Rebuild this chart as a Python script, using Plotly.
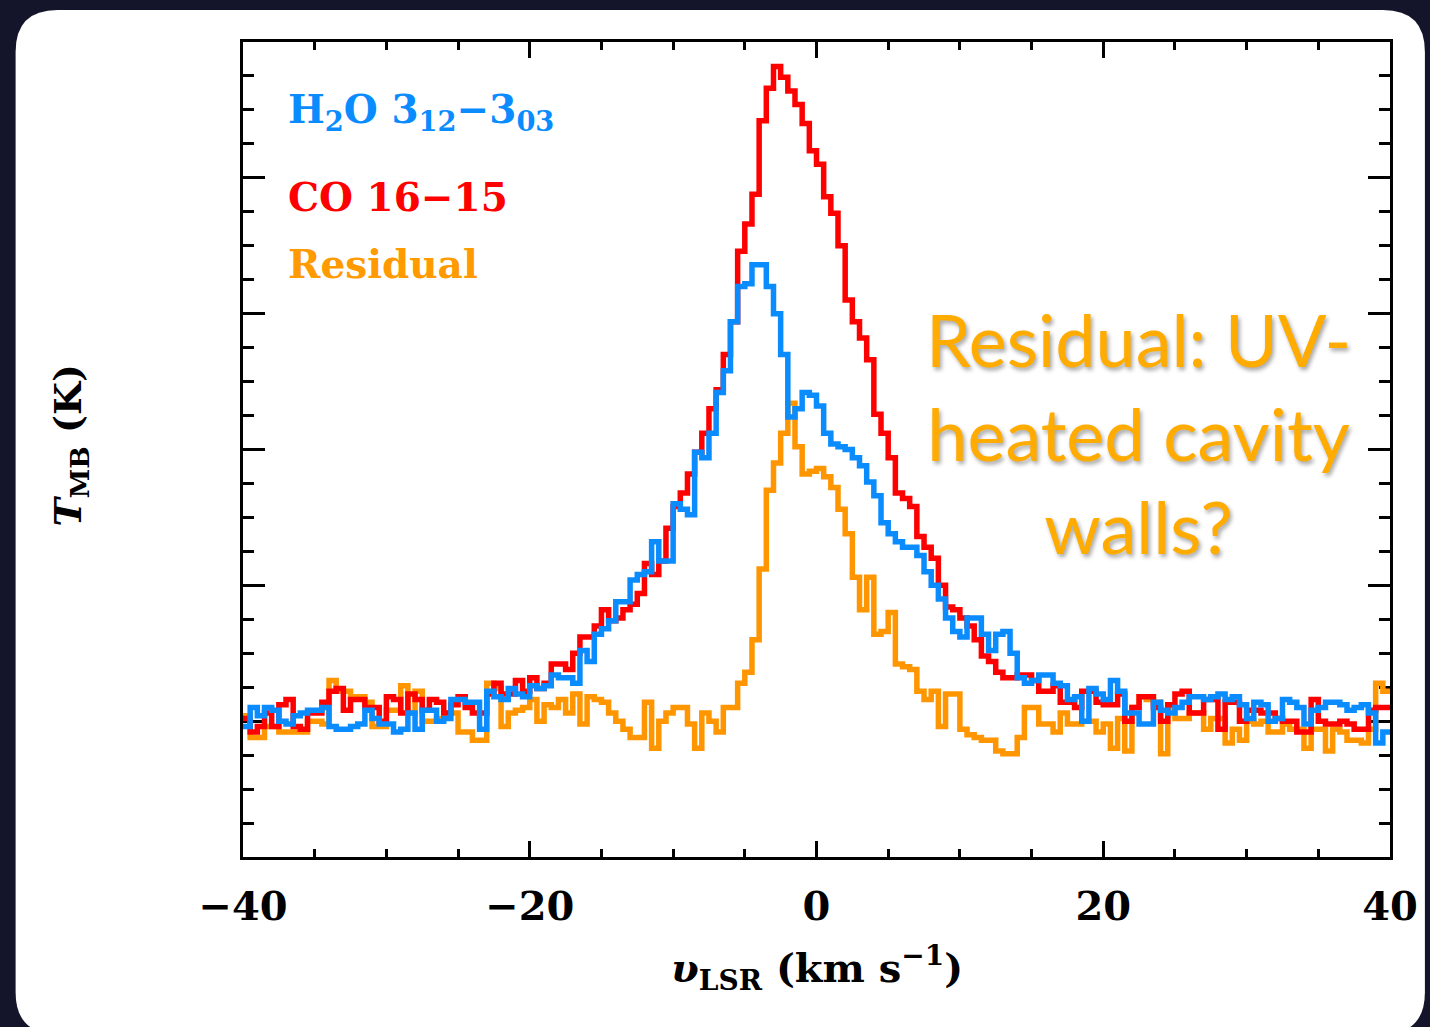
import numpy as np
import plotly.graph_objects as go

# ---- data: spectra on 0.5 km/s channels from -40 to +40 km/s (T_MB in K) ----
v_start = -40.0
chan_width = 0.5

h2o = [-0.02, 0.05, 0.02, 0.05, 0.04, 0.00, -0.01, 0.02, 0.03, 0.04,
       0.04, 0.05, -0.02, -0.03, -0.03, -0.02, -0.01, 0.04, 0.01, -0.01,
       -0.01, -0.04, -0.03, 0.03, -0.03, 0.04, 0.04, 0.00, 0.01, 0.08,
       0.08, 0.07, 0.07, -0.03, 0.11, 0.09, 0.08, 0.12, 0.10, 0.09,
       0.13, 0.12, 0.13, 0.17, 0.16, 0.16, 0.14, 0.26, 0.22, 0.32,
       0.34, 0.37, 0.44, 0.44, 0.52, 0.54, 0.55, 0.66, 0.59, 0.59,
       0.80, 0.78, 0.76, 0.99, 0.97, 1.06, 1.21, 1.29, 1.47, 1.60,
       1.61, 1.68, 1.68, 1.60, 1.50, 1.35, 1.12, 1.15, 1.21, 1.20,
       1.16, 1.06, 1.02, 1.01, 1.00, 0.97, 0.94, 0.88, 0.83, 0.73,
       0.69, 0.66, 0.64, 0.64, 0.61, 0.55, 0.50, 0.45, 0.38, 0.33,
       0.31, 0.38, 0.38, 0.32, 0.26, 0.32, 0.33, 0.25, 0.16, 0.14,
       0.15, 0.17, 0.17, 0.14, 0.13, 0.08, 0.09, 0.00, 0.12, 0.10,
       0.08, 0.15, 0.11, 0.03, 0.03, -0.01, -0.01, 0.07, 0.04, 0.03,
       0.05, 0.07, 0.09, 0.09, 0.08, 0.09, 0.10, 0.08, 0.09, 0.06,
       0.01, 0.07, 0.06, 0.00, 0.01, 0.08, 0.07, 0.05, -0.01, 0.04,
       0.05, 0.07, 0.07, 0.06, 0.04, 0.05, 0.06, 0.03, -0.08, -0.04]

co = [0.01, -0.04, -0.02, 0.03, -0.02, 0.06, 0.08, -0.02, -0.03, 0.03,
      0.03, 0.07, 0.11, 0.12, 0.04, 0.08, 0.08, 0.05, 0.05, 0.00,
      0.09, 0.08, 0.03, 0.10, 0.08, 0.04, 0.08, 0.07, 0.03, 0.06,
      0.09, 0.05, 0.03, 0.03, 0.10, 0.14, 0.10, 0.10, 0.15, 0.11,
      0.16, 0.12, 0.14, 0.21, 0.21, 0.19, 0.25, 0.31, 0.31, 0.35,
      0.41, 0.37, 0.38, 0.41, 0.43, 0.47, 0.58, 0.54, 0.59, 0.71,
      0.79, 0.84, 0.91, 0.99, 1.06, 1.15, 1.22, 1.35, 1.47, 1.73,
      1.83, 1.94, 2.21, 2.33, 2.41, 2.37, 2.32, 2.27, 2.20, 2.10,
      2.05, 1.93, 1.87, 1.75, 1.55, 1.47, 1.41, 1.33, 1.13, 1.06,
      0.97, 0.84, 0.82, 0.79, 0.68, 0.64, 0.60, 0.50, 0.42, 0.41,
      0.38, 0.35, 0.30, 0.24, 0.22, 0.18, 0.16, 0.16, 0.17, 0.17,
      0.15, 0.11, 0.11, 0.13, 0.07, 0.07, 0.05, 0.11, 0.11, 0.07,
      0.06, 0.06, 0.10, 0.00, 0.05, 0.09, 0.09, 0.05, 0.00, 0.06,
      0.10, 0.11, 0.03, 0.03, 0.08, 0.08, -0.03, 0.07, 0.07, 0.00,
      0.04, 0.04, 0.03, 0.03, 0.01, 0.00, 0.00, -0.04, -0.04, 0.08,
      0.00, -0.01, -0.01, 0.00, -0.01, -0.03, -0.03, 0.04, 0.05, 0.05]

residual = [0.02, -0.06, -0.06, -0.02, -0.02, -0.04, -0.04, -0.04, -0.04, 0.00,
            0.00, -0.01, 0.15, 0.11, 0.11, 0.09, 0.09, 0.07, -0.02, -0.02,
            0.04, 0.04, 0.13, 0.03, 0.11, 0.00, 0.00, 0.01, 0.03, 0.03,
            -0.04, -0.04, -0.07, -0.07, 0.14, 0.12, -0.02, 0.03, 0.04, 0.05,
            0.08, 0.00, 0.06, 0.05, 0.08, 0.03, 0.10, -0.01, 0.09, 0.08,
            0.07, 0.03, 0.00, -0.03, -0.06, -0.06, 0.07, -0.10, 0.00, 0.03,
            0.05, 0.05, -0.01, -0.10, 0.03, 0.00, -0.04, 0.05, 0.05, 0.14,
            0.18, 0.30, 0.56, 0.85, 0.95, 1.06, 1.17, 1.01, 0.91, 0.92,
            0.93, 0.90, 0.86, 0.78, 0.69, 0.53, 0.41, 0.53, 0.32, 0.33,
            0.40, 0.21, 0.20, 0.19, 0.11, 0.08, 0.11, -0.02, 0.10, 0.10,
            -0.03, -0.05, -0.06, -0.07, -0.07, -0.11, -0.12, -0.12, -0.06, 0.05,
            0.05, -0.01, -0.01, -0.04, 0.03, -0.01, -0.01, 0.00, 0.00, -0.04,
            -0.01, -0.10, 0.01, -0.11, 0.05, 0.09, 0.08, 0.07, -0.12, 0.05,
            0.01, 0.01, 0.03, 0.03, -0.03, 0.01, 0.01, -0.08, -0.03, -0.07,
            0.00, -0.01, 0.00, -0.04, -0.04, -0.01, -0.03, -0.03, -0.10, -0.03,
            -0.03, -0.11, -0.03, -0.04, -0.07, -0.07, -0.08, -0.03, 0.14, 0.11]

x_ticks = [-40, -20, 0, 20, 40]
x_ticklabels = ["\u221240", "\u221220", "0", "20", "40"]

legend_labels = ["H<sub>2</sub>O 3<sub>12</sub>\u22123<sub>03</sub>", "CO 16\u221215", "Residual"]
note_text = "Residual: UV-<br>heated cavity<br>walls?"

# ---- colours / styles ----
C_BLUE = "#0a8cff"
C_RED = "#ff0000"
C_ORANGE = "#ff9600"
C_NOTE = "#ffab00"
BG = "#14142a"
SERIF = "DejaVu Serif"

W, H = 1430, 1027
L, R, T, B = 243, 37, 42, 170
PW, PH = W - L - R, H - T - B


def px(xp):
    return (xp - L) / PW


def py(yp):
    return (H - B - yp) / PH


n = len(co)
edges = v_start + chan_width * np.arange(n + 1)


def step_xy(vals):
    return edges, list(vals) + [vals[-1]]


fig = go.Figure()
for vals, col in [(residual, C_ORANGE), (co, C_RED), (h2o, C_BLUE)]:
    xs, ys = step_xy(vals)
    fig.add_trace(go.Scatter(x=xs, y=ys, mode="lines", line=dict(color=col, width=5.5, shape="hv"),
                             showlegend=False, hoverinfo="skip"))

# white rounded panel
x0, x1, y0, y1, r = 15, 1428, 10, 1034, 42
path = (f"M {px(x0 + r)} {py(y0)} L {px(x1 - r)} {py(y0)} Q {px(x1)} {py(y0)} {px(x1)} {py(y0 + r)} "
        f"L {px(x1)} {py(y1 - r)} Q {px(x1)} {py(y1)} {px(x1 - r)} {py(y1)} "
        f"L {px(x0 + r)} {py(y1)} Q {px(x0)} {py(y1)} {px(x0)} {py(y1 - r)} "
        f"L {px(x0)} {py(y0 + r)} Q {px(x0)} {py(y0)} {px(x0 + r)} {py(y0)} Z")
fig.add_shape(type="path", path=path, xref="paper", yref="paper", fillcolor="white",
              line=dict(width=0), layer="below")

annos = []
# legend-like labels
for lab, col, yc in zip(legend_labels, [C_BLUE, C_RED, "#ff9a00"], [112, 197, 264]):
    annos.append(dict(text=lab, x=px(286), y=py(yc), xref="paper", yref="paper", xanchor="left",
                      yanchor="middle", showarrow=False,
                      font=dict(family=SERIF, size=39, color=col, weight="bold")))
# note
annos.append(dict(text=note_text, x=px(1141), y=py(432), xref="paper", yref="paper", xanchor="center",
                  yanchor="middle", showarrow=False, align="center",
                  font=dict(family="Lato", size=72, color=C_NOTE,
                            shadow="2px 3px 4px rgba(0,0,0,0.35)")))
# axis titles
annos.append(dict(text="<i>\u03c5</i><sub>LSR</sub> (km s<sup>\u22121</sup>)", x=px(818), y=py(968),
                  xref="paper", yref="paper", xanchor="center", yanchor="middle", showarrow=False,
                  font=dict(family=SERIF, size=40, color="black", weight="bold")))
annos.append(dict(text="<i>T</i><sub>MB</sub> (K)", x=px(70), y=py(445), xref="paper", yref="paper",
                  xanchor="center", yanchor="middle", showarrow=False, textangle=-90,
                  font=dict(family=SERIF, size=38, color="black", weight="bold")))

fig.update_layout(
    width=W, height=H,
    margin=dict(l=L, r=R, t=T, b=B),
    paper_bgcolor=BG,
    plot_bgcolor="white",
    annotations=annos,
    xaxis=dict(range=[-40, 40], tickmode="array", tickvals=x_ticks, ticktext=x_ticklabels,
               ticks="inside", ticklen=16, tickwidth=3, tickcolor="black",
               minor=dict(dtick=5, tick0=-40, ticks="inside", ticklen=8, tickwidth=2.5, tickcolor="black"),
               showline=True, linewidth=3, linecolor="black", mirror="ticks",
               showgrid=False, zeroline=False, ticklabelstandoff=12, layer="below traces",
               tickfont=dict(family=SERIF, size=40, color="black", weight="bold")),
    yaxis=dict(range=[-0.5, 2.5], dtick=0.5, tick0=0, ticks="inside", ticklen=22, tickwidth=3,
               tickcolor="black",
               minor=dict(dtick=0.125, ticks="inside", ticklen=11, tickwidth=2.5, tickcolor="black"),
               showticklabels=False, showline=True, linewidth=3, linecolor="black", mirror="ticks",
               showgrid=False, zeroline=False, layer="below traces"),
)

fig.write_html("out.html", config={"displayModeBar": False},
               post_script=f"document.body.style.margin='0';document.body.style.background='{BG}';")
